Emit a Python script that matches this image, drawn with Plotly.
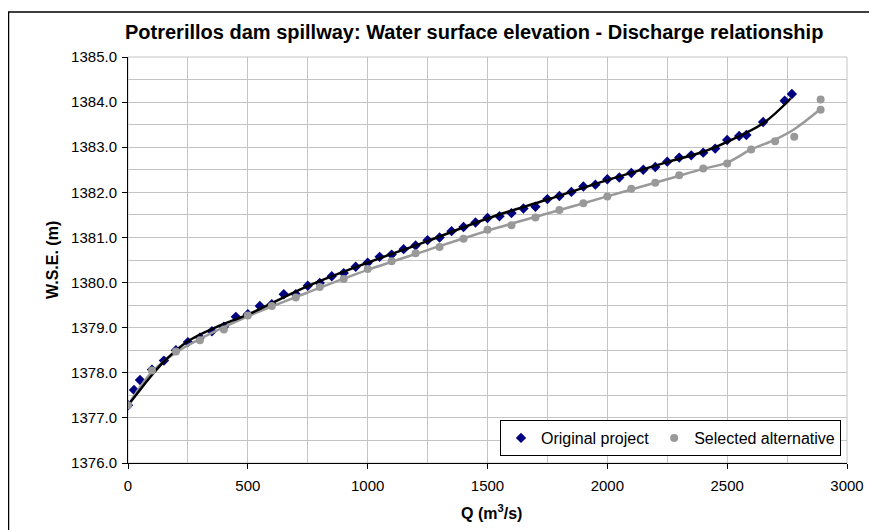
import plotly.graph_objects as go

# ---- data ----
q_original = [0, 25, 50, 100, 150, 200, 250, 300, 350, 400, 450, 500, 550, 600, 650, 700,
              750, 800, 850, 900, 950, 1000, 1050, 1100, 1150, 1200, 1250, 1300, 1350, 1400,
              1450, 1500, 1550, 1600, 1650, 1700, 1750, 1800, 1850, 1900, 1950, 2000, 2050,
              2100, 2150, 2200, 2250, 2300, 2350, 2400, 2450, 2500, 2550, 2580, 2650, 2740, 2770]
h_original = [1377.28, 1377.62, 1377.84, 1378.07, 1378.27, 1378.50, 1378.68, 1378.78, 1378.92,
              1379.02, 1379.24, 1379.30, 1379.48, 1379.52, 1379.74, 1379.74, 1379.93, 1379.99,
              1380.14, 1380.21, 1380.35, 1380.44, 1380.57, 1380.62, 1380.74, 1380.82, 1380.94,
              1381.00, 1381.14, 1381.23, 1381.33, 1381.43, 1381.47, 1381.54, 1381.64, 1381.68,
              1381.85, 1381.92, 1382.01, 1382.13, 1382.17, 1382.29, 1382.33, 1382.43, 1382.50,
              1382.56, 1382.68, 1382.77, 1382.82, 1382.88, 1382.97, 1383.16, 1383.25, 1383.27,
              1383.56, 1384.03, 1384.18]

q_selected = [0, 100, 200, 300, 400, 500, 600, 700, 800, 900, 1000, 1100, 1200, 1300, 1400,
              1500, 1600, 1700, 1800, 1900, 2000, 2100, 2200, 2300, 2400, 2500, 2600, 2700,
              2780, 2890, 2890]
h_selected = [1377.28, 1378.05, 1378.47, 1378.72, 1378.96, 1379.27, 1379.48, 1379.67, 1379.90,
              1380.08, 1380.30, 1380.47, 1380.65, 1380.79, 1380.97, 1381.17, 1381.27, 1381.44,
              1381.61, 1381.76, 1381.91, 1382.08, 1382.21, 1382.38, 1382.53, 1382.64, 1382.95,
              1383.13, 1383.23, 1384.06, 1383.83]

# smooth curves drawn through the points
q_fit_original = [0, 50, 100, 150, 250, 375, 500, 750, 1000, 1250, 1500, 1750, 2000, 2250,
                  2400, 2500, 2650, 2765]
h_fit_original = [1377.28, 1377.62, 1377.95, 1378.25, 1378.70, 1379.03, 1379.29, 1379.92,
                  1380.44, 1380.92, 1381.42, 1381.84, 1382.27, 1382.67, 1382.90, 1383.12,
                  1383.53, 1384.08]

q_fit_selected = [0, 50, 100, 200, 300, 500, 750, 1000, 1250, 1500, 1750, 2000, 2250, 2400,
                  2500, 2600, 2700, 2780, 2886]
h_fit_selected = [1377.28, 1377.68, 1378.02, 1378.45, 1378.75, 1379.25, 1379.78, 1380.28,
                  1380.72, 1381.15, 1381.53, 1381.91, 1382.29, 1382.52, 1382.66, 1382.95,
                  1383.17, 1383.40, 1383.83]

x_ticks = [0, 500, 1000, 1500, 2000, 2500, 3000]
y_ticks = [1376, 1377, 1378, 1379, 1380, 1381, 1382, 1383, 1384, 1385]

title_text = "Potrerillos dam spillway: Water surface elevation - Discharge relationship"
x_title = "Q (m<sup>3</sup>/s)"
y_title = "W.S.E. (m)"

NAVY = "#000080"
GREY = "#999999"
GRID = "#c4c4c4"
FONT = "Liberation Sans, Arial, sans-serif"

fig = go.Figure()
fig.add_trace(go.Scatter(x=q_original, y=h_original, mode="markers", name="Original project",
                         marker=dict(symbol="diamond", size=8, color=NAVY)))
fig.add_trace(go.Scatter(x=q_fit_selected, y=h_fit_selected, mode="lines", showlegend=False,
                         line=dict(color=GREY, width=2.5, shape="spline"), hoverinfo="skip"))
fig.add_trace(go.Scatter(x=q_fit_original, y=h_fit_original, mode="lines", showlegend=False,
                         line=dict(color="black", width=2.5, shape="spline"), hoverinfo="skip"))
fig.add_trace(go.Scatter(x=q_selected, y=h_selected, mode="markers", name="Selected alternative",
                         marker=dict(symbol="circle", size=8, color=GREY)))

# the page body adds an 8 px offset, so the figure is laid out 8 px smaller
W, H = 869, 522
L, R, T, B = 120, 839, 49, 455
pw, ph = R - L, B - T


def px_x(p):
    return (p - L) / pw


def px_y(p):
    return (B - p) / ph


fig.update_layout(
    width=W, height=H,
    margin=dict(l=L, r=W - R, t=T, b=H - B),
    paper_bgcolor="white", plot_bgcolor="white",
    font=dict(family=FONT, size=15, color="black"),
    showlegend=True,
    legend=dict(orientation="h", x=px_x(833), xanchor="right", y=px_y(448), yanchor="bottom",
                bgcolor="white", bordercolor="black", borderwidth=1,
                font=dict(family=FONT, size=16, color="black"),
                itemwidth=30, tracegroupgap=0),
    xaxis=dict(range=[0, 3000], tickvals=x_ticks, ticks="outside", ticklen=5, tickcolor="black",
               showline=True, linecolor="black", linewidth=1, showgrid=True, gridcolor=GRID,
               gridwidth=1, zeroline=False, ticklabelstandoff=4,
               minor=dict(dtick=250, tick0=0, showgrid=True, gridcolor=GRID, gridwidth=1, ticks=""),
               tickfont=dict(family=FONT, size=15, color="black")),
    yaxis=dict(range=[1376, 1385], tickvals=y_ticks, tickformat=".1f", ticks="outside", ticklen=5,
               tickcolor="black", showline=True, linecolor="black", linewidth=1, showgrid=True,
               gridcolor=GRID, gridwidth=1, zeroline=False, ticklabelstandoff=2,
               minor=dict(dtick=0.5, tick0=1376, showgrid=True, gridcolor=GRID, gridwidth=1, ticks=""),
               tickfont=dict(family=FONT, size=15, color="black")),
    shapes=[
        dict(type="rect", xref="paper", yref="paper", x0=0, x1=1, y0=0, y1=1,
             line=dict(color=GRID, width=1), layer="below"),
        dict(type="rect", xref="paper", yref="paper", x0=px_x(0.5), x1=px_x(900), y0=px_y(560),
             y1=px_y(4), line=dict(color="black", width=1.5), layer="above"),
    ],
    annotations=[
        dict(text="<b>" + title_text + "</b>", xref="paper", yref="paper", x=px_x(466),
             y=px_y(24), xanchor="center", yanchor="middle", showarrow=False,
             font=dict(family=FONT, size=20, color="black")),
        dict(text="<b>" + x_title + "</b>", xref="paper", yref="paper", x=px_x(483), y=px_y(504),
             xanchor="center", yanchor="middle", showarrow=False,
             font=dict(family=FONT, size=16, color="black")),
        dict(text="<b>" + y_title + "</b>", xref="paper", yref="paper", x=px_x(44), y=0.5,
             xanchor="center", yanchor="middle", textangle=-90, showarrow=False,
             font=dict(family=FONT, size=16, color="black")),
    ],
)

fig.write_html("out.html")
